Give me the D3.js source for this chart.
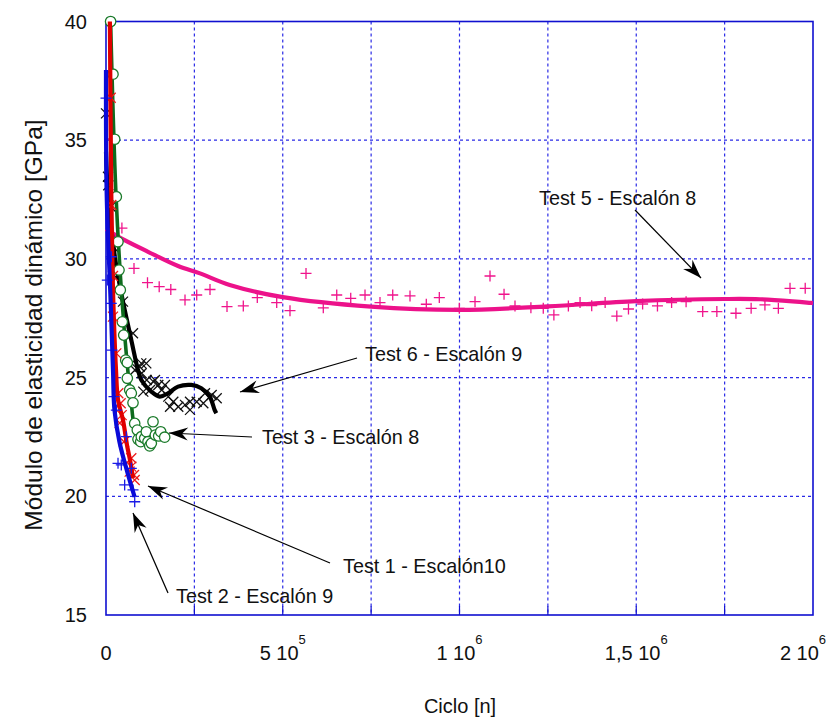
<!DOCTYPE html>
<html>
<head>
<meta charset="utf-8">
<script src="https://cdn.jsdelivr.net/npm/d3@7"></script>
<style>
  html, body { margin: 0; padding: 0; background: #fff; }
  svg { display: block; font-family: "Liberation Sans", Arial, sans-serif; }
</style>
</head>
<body>
<svg id="chart" width="829" height="718"></svg>
<script>
// Dynamic elastic modulus vs. number of cycles, several test runs

const yTicks = [15, 20, 25, 30, 35, 40];
const xTicks = [0, 500000, 1000000, 1500000, 2000000];
const xTickMant = ["0", "5 10", "1 10", "1,5 10", "2 10"];
const xTickExp  = ["", "5", "6", "6", "6"];
const xGrid = [250000, 500000, 750000, 1000000, 1250000, 1500000, 1750000];
const yGrid = [20, 25, 30, 35];

// Test 5 - Escalón 8 (measurements and fitted curve)
const t5X = [14000, 45000, 79200, 117400, 150500, 183300, 223500, 256600, 294200, 342300, 388400, 428000, 482900, 520500, 565800, 614700, 652700, 692300, 732700, 775100, 811100, 860000, 906100, 942900, 999500, 1043900, 1086300, 1126000, 1157000, 1202000, 1237000, 1267000, 1308000, 1341000, 1374000, 1412000, 1445000, 1478000, 1518000, 1560000, 1600000, 1641000, 1688000, 1728000, 1782000, 1825000, 1864000, 1902000, 1935000, 1978000];
const t5Y = [35.05, 31.30, 29.60, 29.00, 28.83, 28.71, 28.27, 28.48, 28.71, 27.99, 28.02, 28.37, 28.16, 27.82, 29.39, 27.94, 28.48, 28.34, 28.48, 28.16, 28.48, 28.44, 28.09, 28.37, 27.92, 28.20, 29.28, 28.51, 28.02, 27.94, 27.92, 27.64, 28.02, 28.16, 28.03, 28.16, 27.59, 27.89, 28.10, 28.02, 28.16, 28.20, 27.78, 27.78, 27.71, 27.92, 28.06, 27.92, 28.76, 28.76];
const t5FitX = [0, 34000, 119000, 204000, 266000, 350000, 500000, 750000, 1000000, 1250000, 1500000, 1750000, 1850000, 2000000];
const t5FitY = [31.26, 30.94, 30.30, 29.70, 29.39, 28.90, 28.39, 27.99, 27.85, 28.00, 28.22, 28.31, 28.30, 28.14];

// Test 6 - Escalón 9
const t6X = [0, 5700, 6500, 13300, 19800, 29200, 48100, 76400, 99900, 114000, 72700, 82000, 95300, 101000, 115100, 133800, 138600, 148000, 157600, 105500, 124500, 166900, 176200, 190400, 204500, 223500, 237600, 256600, 280100, 299000, 313200, 181100, 237600, 275300];
const t6Y = [36.13, 33.46, 33.10, 32.20, 30.51, 29.22, 28.20, 26.87, 25.60, 25.60, 25.60, 25.32, 25.46, 25.18, 24.90, 24.83, 24.90, 24.69, 24.48, 24.41, 24.48, 24.69, 24.20, 23.98, 23.77, 23.85, 23.98, 23.98, 24.34, 24.27, 24.13, 23.77, 23.64, 23.92];
const t6FitX = [0, 5700, 24000, 43300, 71600, 90500, 99900, 128200, 151900, 175400, 203700, 241300, 269600, 293400, 307500, 312000];
const t6FitY = [34.52, 32.69, 30.20, 28.55, 26.58, 25.32, 24.90, 24.41, 24.20, 24.34, 24.62, 24.69, 24.55, 24.20, 23.63, 23.50];

// Test 3 - Escalón 8
const t3X = [13000, 19800, 24600, 29200, 33900, 36800, 40500, 46100, 50000, 55700, 60300, 60300, 67000, 71600, 76400, 81200, 88500, 90500, 98200, 99900, 109400, 114000, 118800, 123600, 128200, 133000, 139500, 149000, 154700, 166000];
const t3Y = [40.00, 37.78, 35.04, 32.62, 30.72, 29.53, 28.69, 27.35, 26.79, 25.74, 25.63, 24.97, 24.48, 24.34, 23.94, 23.07, 22.79, 22.40, 22.30, 22.51, 22.44, 22.72, 22.30, 22.12, 22.23, 23.14, 22.58, 22.54, 22.72, 22.49];
const t3FitX = [13000, 28300, 45300, 59400, 70700, 79200, 90500, 110300, 133000, 152800, 167000];
const t3FitY = [40.00, 32.69, 28.27, 25.66, 24.06, 23.00, 22.50, 22.37, 22.54, 22.75, 22.50];

// Test 1 - Escalón10
const t1X = [13300, 15000, 19800, 19800, 29200, 34800, 38800, 41500, 44400, 50900, 67000, 71600, 71600, 79200, 81200];
const t1Y = [36.79, 32.27, 29.28, 27.57, 26.02, 24.34, 23.09, 23.92, 23.42, 22.30, 21.04, 21.60, 21.25, 20.90, 20.69];
const t1FitX = [11000, 15000, 19800, 28300, 34000, 48100, 59400, 67900, 76400];
const t1FitY = [40.00, 32.69, 28.69, 25.32, 24.06, 23.21, 22.16, 21.53, 20.77];

// Test 2 - Escalón 9
const t2X = [0, 3700, 15000, 15000, 17000, 22600, 29200, 34000, 43300, 52800, 57400, 71600, 76400, 81200];
const t2Y = [36.77, 29.11, 30.09, 28.13, 26.16, 24.20, 23.63, 21.39, 21.32, 20.48, 22.51, 21.18, 20.27, 19.77];
const t2FitX = [0, 2000, 13000, 19800, 24000, 38000, 60000, 81000];
const t2FitY = [37.96, 32.70, 28.27, 25.32, 23.63, 22.30, 21.04, 19.97];

const plotLeft = 106, plotRight = 813, plotTop = 21.5, plotBottom = 615;

const svg = d3.select("#chart");
const x = d3.scaleLinear().domain([0, 2000000]).range([plotLeft, plotRight]);
const y = d3.scaleLinear().domain([15, 40]).range([plotBottom, plotTop]);

const zip = (xs, ys) => xs.map((v, i) => [v, ys[i]]);

// arrowhead for the annotation leaders
const defs = svg.append("defs");
defs.append("marker")
  .attr("id", "arrow")
  .attr("markerUnits", "userSpaceOnUse")
  .attr("viewBox", "-20 -8 22 16")
  .attr("refX", 0).attr("refY", 0)
  .attr("markerWidth", 22).attr("markerHeight", 16)
  .attr("orient", "auto")
  .append("path")
  .attr("d", "M0,0 L-19,-6.5 L-13,0 L-19,6.5 Z")
  .attr("fill", "#000");

// grid
const grid = svg.append("g").attr("class", "grid")
  .attr("stroke", "#2a2ae6").attr("stroke-width", 1.2)
  .attr("stroke-dasharray", "3,3");
grid.selectAll("line.gx").data(xGrid).join("line").attr("class", "gx")
  .attr("x1", d => x(d)).attr("x2", d => x(d))
  .attr("y1", plotTop).attr("y2", plotBottom);
grid.selectAll("line.gy").data(yGrid).join("line").attr("class", "gy")
  .attr("x1", plotLeft).attr("x2", plotRight)
  .attr("y1", d => y(d)).attr("y2", d => y(d));

// frame
svg.append("rect")
  .attr("x", plotLeft).attr("y", plotTop)
  .attr("width", plotRight - plotLeft).attr("height", plotBottom - plotTop)
  .attr("fill", "none").attr("stroke", "#1010d0").attr("stroke-width", 1.6);

// bottom inner ticks
svg.append("g").selectAll("line").data(xGrid).join("line")
  .attr("x1", d => x(d)).attr("x2", d => x(d))
  .attr("y1", plotBottom).attr("y2", plotBottom - 9)
  .attr("stroke", "#1010d0").attr("stroke-width", 1.2);

// y tick labels
svg.append("g").selectAll("text").data(yTicks).join("text")
  .attr("x", 87).attr("y", d => y(d) + 7)
  .attr("text-anchor", "end")
  .attr("font-size", 20)
  .attr("fill", "#111")
  .text(d => d);

// x tick labels with superscript exponents
const xl = svg.append("g").selectAll("text").data(xTicks).join("text")
  .attr("x", d => Math.min(x(d), 803)).attr("y", 660)
  .attr("text-anchor", "middle")
  .attr("font-size", 20)
  .attr("fill", "#111");
xl.append("tspan").text((d, i) => xTickMant[i]);
xl.append("tspan").attr("dy", -16).attr("font-size", 13).text((d, i) => xTickExp[i]);

// axis titles
svg.append("text")
  .attr("x", 460).attr("y", 713)
  .attr("text-anchor", "middle")
  .attr("font-size", 20)
  .attr("fill", "#111")
  .text("Ciclo [n]");
svg.append("text")
  .attr("transform", "translate(42,325) rotate(-90)")
  .attr("text-anchor", "middle")
  .attr("font-size", 24.5)
  .attr("fill", "#111")
  .text("Módulo de elasticidad dinámico [GPa]");

const lineC = d3.line().x(d => x(d[0])).y(d => y(d[1])).curve(d3.curveCatmullRom.alpha(0.5));

function plus(g, pts, color, s) {
  g.selectAll(null).data(pts).join("path")
    .attr("d", d => `M${x(d[0]) - s},${y(d[1])}H${x(d[0]) + s}M${x(d[0])},${y(d[1]) - s}V${y(d[1]) + s}`)
    .attr("stroke", color).attr("stroke-width", 1.3).attr("fill", "none");
}
function cross(g, pts, color, s) {
  g.selectAll(null).data(pts).join("path")
    .attr("d", d => `M${x(d[0]) - s},${y(d[1]) - s}L${x(d[0]) + s},${y(d[1]) + s}M${x(d[0]) - s},${y(d[1]) + s}L${x(d[0]) + s},${y(d[1]) - s}`)
    .attr("stroke", color).attr("stroke-width", 1.3).attr("fill", "none");
}

const plot = svg.append("g");

// Test 5
plus(plot.append("g"), zip(t5X, t5Y), "#f0148c", 5.5);
plot.append("path").datum(zip(t5FitX, t5FitY))
  .attr("d", lineC).attr("fill", "none")
  .attr("stroke", "#ec128a").attr("stroke-width", 4.2);

// Test 6
cross(plot.append("g"), zip(t6X, t6Y), "#111", 5);
plot.append("path").datum(zip(t6FitX, t6FitY))
  .attr("d", lineC).attr("fill", "none")
  .attr("stroke", "#000").attr("stroke-width", 4.2);

// Test 3
plot.append("path").datum(zip(t3FitX, t3FitY))
  .attr("d", lineC).attr("fill", "none")
  .attr("stroke", "#0f6b1e").attr("stroke-width", 3.6);
plot.append("g").selectAll("circle").data(zip(t3X, t3Y)).join("circle")
  .attr("cx", d => x(d[0])).attr("cy", d => y(d[1])).attr("r", 5.2)
  .attr("fill", "#fff").attr("stroke", "#1a7a2a").attr("stroke-width", 1.3);

// Test 1
cross(plot.append("g"), zip(t1X, t1Y), "#ee1c1c", 5);
plot.append("path").datum(zip(t1FitX, t1FitY))
  .attr("d", lineC).attr("fill", "none")
  .attr("stroke", "#e00000").attr("stroke-width", 4.2);

// Test 2
plus(plot.append("g"), zip(t2X, t2Y), "#1a1ae6", 5.5);
plot.append("path").datum(zip(t2FitX, t2FitY))
  .attr("d", lineC).attr("fill", "none")
  .attr("stroke", "#0a0ad8").attr("stroke-width", 4.2);

// annotations with leaders
const notes = [
  { text: "Test 5 - Escalón 8", tx: 539, ty: 205, x1: 635, y1: 210, x2: 701, y2: 278 },
  { text: "Test 6 - Escalón 9", tx: 365, ty: 361, x1: 357, y1: 358, x2: 240, y2: 392 },
  { text: "Test 3 - Escalón 8", tx: 262, ty: 444, x1: 252, y1: 437, x2: 169, y2: 433 },
  { text: "Test 1 - Escalón10", tx: 343, ty: 573, x1: 330, y1: 563, x2: 148, y2: 486 },
  { text: "Test 2 - Escalón 9", tx: 176, ty: 603, x1: 168, y1: 593, x2: 133, y2: 513 }
];
const ann = svg.append("g");
ann.selectAll("line").data(notes).join("line")
  .attr("x1", d => d.x1).attr("y1", d => d.y1)
  .attr("x2", d => d.x2).attr("y2", d => d.y2)
  .attr("stroke", "#000").attr("stroke-width", 1.2)
  .attr("marker-end", "url(#arrow)");
ann.selectAll("text").data(notes).join("text")
  .attr("x", d => d.tx).attr("y", d => d.ty)
  .attr("font-size", 19.8)
  .attr("fill", "#111")
  .text(d => d.text);
</script>
</body>
</html>
